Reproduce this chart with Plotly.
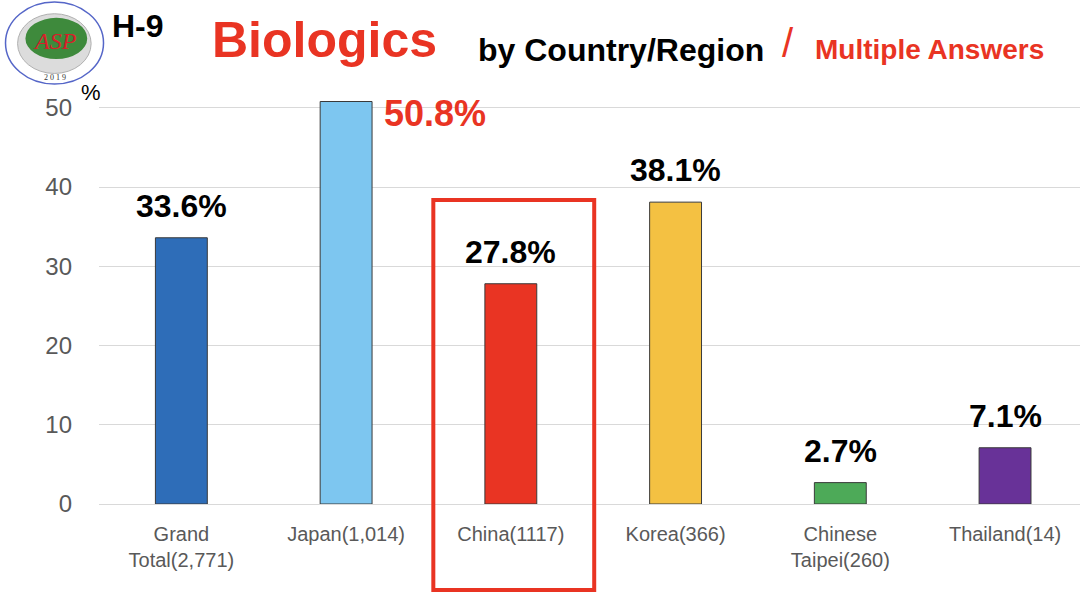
import plotly.graph_objects as go

# chart data
categories = ["Grand<br>Total(2,771)", "Japan(1,014)", "China(1117)",
              "Korea(366)", "Chinese<br>Taipei(260)", "Thailand(14)"]
values = [33.6, 50.8, 27.8, 38.1, 2.7, 7.1]
bar_colors = ["#2E6DB8", "#7DC6F0", "#E93423", "#F4C142", "#4DAA58", "#683298"]
y_ticks = [0, 10, 20, 30, 40, 50]

RED = "#E93423"
FONT = "Liberation Sans, Arial, sans-serif"

fig = go.Figure()

fig.add_trace(go.Bar(x=list(range(len(categories))),
                     y=values,
                     width=0.315,
                     marker=dict(color=bar_colors,
                                 line=dict(color="#3A3A3A", width=1)),
                     hoverinfo="y"))

# value labels
for i, v in enumerate(values):
    if i == 1:
        fig.add_annotation(x=i, y=v, text="<b>%.1f%%</b>" % v,
                           showarrow=False, xanchor="left", yanchor="middle",
                           xshift=36, yshift=-12,
                           font=dict(size=36, color=RED, family=FONT))
    else:
        fig.add_annotation(x=i, y=v, text="<b>%.1f%%</b>" % v,
                           showarrow=False, xanchor="center", yanchor="bottom",
                           yshift=12,
                           font=dict(size=32, color="black", family=FONT))

# highlight box around China
fig.add_shape(type="rect", xref="paper", yref="paper",
              x0=0.3408, x1=0.5048, y0=-0.209, y1=0.738,
              line=dict(color=RED, width=4))

# titles
fig.add_annotation(xref="paper", yref="paper", x=0.1127, y=1.126,
                   text="<b>Biologics</b>", showarrow=False,
                   xanchor="left", yanchor="middle",
                   font=dict(size=50, color=RED, family=FONT))
fig.add_annotation(xref="paper", yref="paper", x=0.3846, y=1.102,
                   text="<b>by Country/Region</b>", showarrow=False,
                   xanchor="left", yanchor="middle",
                   font=dict(size=32, color="black", family=FONT))
fig.add_annotation(xref="paper", yref="paper", x=0.694, y=1.119,
                   text="/", showarrow=False,
                   xanchor="left", yanchor="middle",
                   font=dict(size=40, color=RED, family=FONT))
fig.add_annotation(xref="paper", yref="paper", x=0.728, y=1.102,
                   text="<b>Multiple Answers</b>", showarrow=False,
                   xanchor="left", yanchor="middle",
                   font=dict(size=28, color=RED, family=FONT))
fig.add_annotation(xref="paper", yref="paper", x=0.0117, y=1.160,
                   text="<b>H-9</b>", showarrow=False,
                   xanchor="left", yanchor="middle",
                   font=dict(size=32, color="black", family=FONT))
fig.add_annotation(xref="paper", yref="paper", x=-0.02, y=1.0,
                   text="%", showarrow=False,
                   xanchor="left", yanchor="middle",
                   font=dict(size=22, color="black", family=FONT))

# logo (rough)
fig.add_shape(type="circle", xref="paper", yref="paper",
              x0=-0.0953, x1=0.0046, y0=1.0194, y1=1.2184,
              line=dict(color="#5566C8", width=1.5), fillcolor="white")
fig.add_shape(type="circle", xref="paper", yref="paper",
              x0=-0.083, x1=-0.008, y0=1.045, y1=1.19,
              line=dict(color="#B0B0B0", width=1), fillcolor="#DCDCDC")
fig.add_shape(type="circle", xref="paper", yref="paper",
              x0=-0.075, x1=-0.012, y0=1.08, y1=1.18,
              line=dict(width=0), fillcolor="#3E8A3C")
fig.add_annotation(xref="paper", yref="paper", x=-0.045, y=1.125,
                   text="<i>ASP</i>", showarrow=False,
                   xanchor="center", yanchor="middle",
                   font=dict(size=24, color="#D8202A", family="Liberation Serif, serif"))
fig.add_annotation(xref="paper", yref="paper", x=-0.045, y=1.035,
                   text="2 0 1 9", showarrow=False,
                   xanchor="center", yanchor="middle",
                   font=dict(size=8, color="#333333", family="Liberation Serif, serif"))

fig.update_layout(
    width=1080, height=592,
    margin=dict(l=98.5, r=0, t=92, b=88),
    paper_bgcolor="white", plot_bgcolor="white",
    showlegend=False,
    bargap=0.685,
    font=dict(family=FONT),
    xaxis=dict(range=[-0.5, 5.455],
               tickmode="array",
               tickvals=list(range(len(categories))),
               ticktext=categories,
               tickfont=dict(size=20, color="#595959", family=FONT),
               showgrid=False, zeroline=False, showline=False,
               ticks="", ticklabelstandoff=16),
    yaxis=dict(range=[0, 52],
               tickmode="array",
               tickvals=y_ticks,
               tickfont=dict(size=24, color="#595959", family=FONT),
               showgrid=True, gridcolor="#D9D9D9", gridwidth=1,
               zeroline=True, zerolinecolor="#D9D9D9", zerolinewidth=1,
               showline=False, ticks="", ticklabelstandoff=26),
)

fig.write_html("out.html", config={"displayModeBar": False},
               post_script="document.body.style.margin='0';")
